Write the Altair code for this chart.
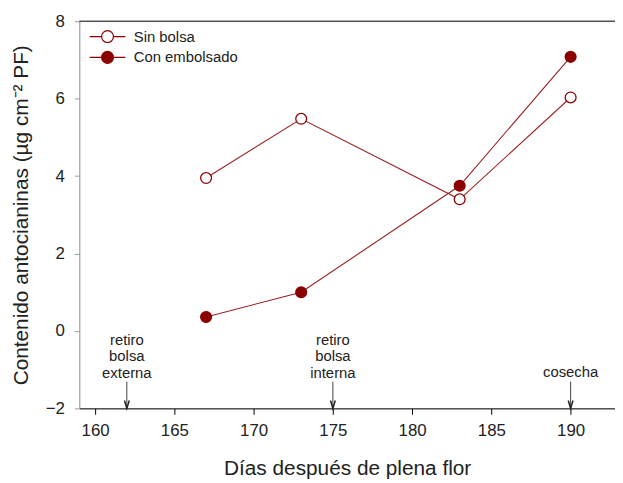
import altair as alt
import pandas as pd

# ---- data ----
dias = [167, 173, 183, 190]
sin_bolsa = [3.95, 5.48, 3.40, 6.03]
con_embolsado = [0.36, 1.00, 3.75, 7.08]
series = ["Sin bolsa", "Con embolsado"]

ann_x = [162, 175, 190]
ann_text = [["retiro", "bolsa", "externa"], ["retiro", "bolsa", "interna"], ["cosecha"]]
ann_text_y = [-0.36, -0.36, -1.20]
arrow_top = -1.31
arrow_tip = -2

x_ticks = [160, 165, 170, 175, 180, 185, 190]
y_ticks = [-2, 0, 2, 4, 6, 8]
x_domain = [159, 192.8]
y_domain = [-2, 8]

RED = "#8B0000"
LINE = "#9a2020"
FONT = "Liberation Sans"

rows = []
for s, vals in zip(series, [sin_bolsa, con_embolsado]):
    for d, v in zip(dias, vals):
        rows.append({"dia": d, "valor": v, "serie": s})
df = pd.DataFrame(rows)

ann = pd.DataFrame({"dia": ann_x, "txt": ann_text,
                    "valor": ann_text_y,
                    "top": [arrow_top] * 3, "tip": [arrow_tip] * 3})

x_enc = alt.X("dia:Q", scale=alt.Scale(domain=x_domain, nice=False, zero=False),
              title="Días después de plena flor",
              axis=alt.Axis(values=x_ticks, grid=False, domainColor="#000", tickColor="#000",
                            tickSize=6, labelFontSize=17, labelColor="#222", labelPadding=8,
                            titleFontSize=21, titleFontWeight="normal", titleColor="#222",
                            titlePadding=20, labelFont=FONT, titleFont=FONT))
y_enc = alt.Y("valor:Q", scale=alt.Scale(domain=y_domain, nice=False),
              title="Contenido antocianinas (µg cm⁻² PF)",
              axis=alt.Axis(values=y_ticks, grid=False, domainColor="#9a9a9a", tickColor="#9a9a9a",
                            tickSize=5, labelFontSize=17, labelColor="#222", labelPadding=10,
                            titleFontSize=21, titleFontWeight="normal", titleColor="#222",
                            titlePadding=14, labelFont=FONT, titleFont=FONT))

# legend symbol: a short line with a circle in the middle (circle radius 1 unit)
legend_path = ("M-3,0L-1,0M1,0L3,0"
               "M-1,0A1,1 0 1,1 1,0A1,1 0 1,1 -1,0Z")

base = alt.Chart(df)

lines = base.mark_line(color=LINE, strokeWidth=1.1).encode(
    x=x_enc, y=y_enc, detail="serie:N")

points = base.mark_point(filled=False, shape="circle", size=120, stroke=RED,
                         strokeWidth=1.3, opacity=1).encode(
    x=x_enc, y=y_enc,
    fill=alt.Fill("serie:N",
                  scale=alt.Scale(domain=series, range=["white", RED]),
                  legend=alt.Legend(title=None, orient="none", legendX=21, legendY=8,
                                    symbolType=legend_path, symbolSize=144,
                                    symbolStrokeColor=RED, symbolStrokeWidth=1.2,
                                    labelFontSize=15, labelFont=FONT, labelColor="#222",
                                    labelOffset=19, rowPadding=4)))

top_rule = alt.Chart(pd.DataFrame({"valor": [8]})).mark_rule(
    color="#555", strokeWidth=1.5).encode(y=y_enc)

texts = alt.Chart(ann).mark_text(fontSize=15, font=FONT, color="#222", baseline="alphabetic",
                                 lineHeight=16.5).encode(x=x_enc, y=y_enc, text="txt")

stems = alt.Chart(ann).mark_rule(color="#444", strokeWidth=1).encode(
    x=x_enc, y=alt.Y("top:Q"), y2="tip:Q")

heads = alt.Chart(ann).mark_point(shape="M-0.6,-1L0,1L0.6,-1", size=64, filled=False,
                                  stroke="#222", strokeWidth=1.5, yOffset=-4, opacity=1).encode(
    x=x_enc, y=alt.Y("tip:Q"))

chart = alt.layer(top_rule, lines, points, stems, heads, texts).properties(
    width=541, height=391,
    autosize=alt.AutoSizeParams(type="none"),
    padding={"left": 72, "top": 11, "right": 0, "bottom": 70},
).configure_view(stroke=None).configure(background="white")

chart.save("out.html", embed_options={"renderer": "svg", "actions": False})
